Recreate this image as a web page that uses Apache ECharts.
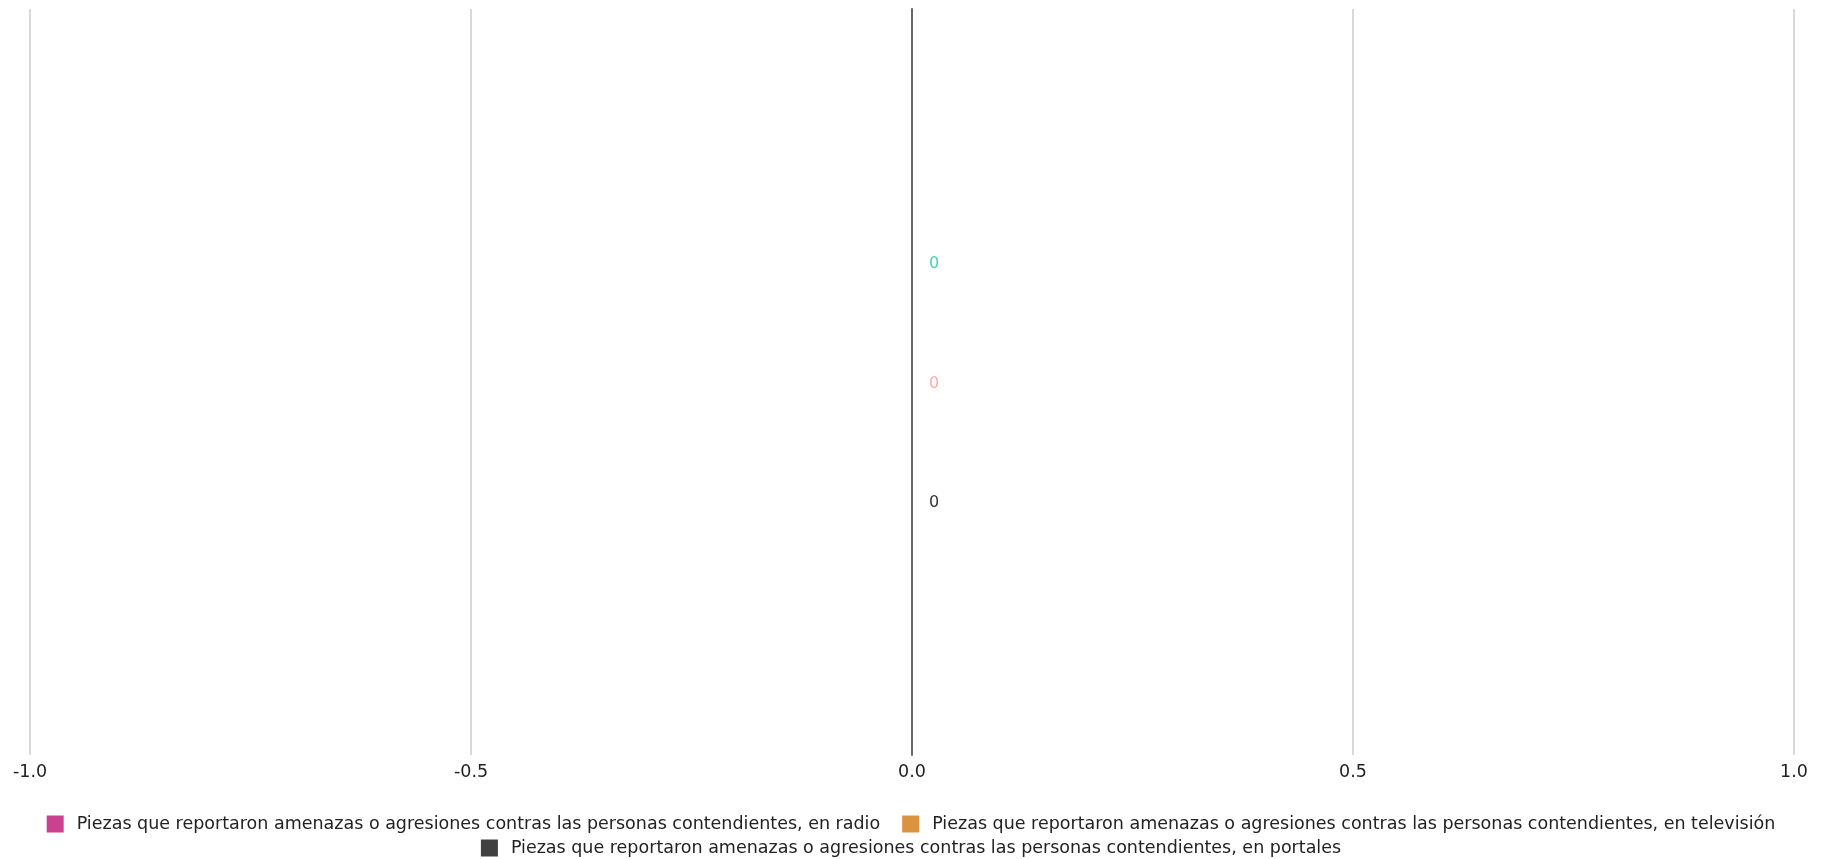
<!DOCTYPE html>
<html>
<head>
<meta charset="utf-8">
<script src="https://cdn.jsdelivr.net/npm/echarts@6/dist/echarts.min.js"></script>
<style>
html,body{margin:0;padding:0;background:#fff;}
#chart{width:1822px;height:859px;}
</style>
</head>
<body>
<div id="chart"></div>
<script>
const categories = [''];
const seriesNames = [
  'Piezas que reportaron amenazas o agresiones contras las personas contendientes, en radio',
  'Piezas que reportaron amenazas o agresiones contras las personas contendientes, en televisión',
  'Piezas que reportaron amenazas o agresiones contras las personas contendientes, en portales'
];
const radioValues = [0];
const tvValues = [0];
const portalesValues = [0];
const seriesColors = ['#c9418f', '#dc9340', '#404040'];
const labelColors = ['#45d3aa', '#ffaaaa', '#333333'];
const xTicks = [-1.0, -0.5, 0.0, 0.5, 1.0];

const font = '"DejaVu Sans", Verdana, sans-serif';
const values = [radioValues, tvValues, portalesValues];

const legendBase = {
  left: 'center',
  itemWidth: 17, itemHeight: 17, itemGap: 22,
  icon: 'rect',
  itemStyle: { borderRadius: 2 },
  textStyle: { fontFamily: font, fontSize: 17.5, color: '#222', padding: [0, 0, 0, 8] }
};

const chart = echarts.init(document.getElementById('chart'));
chart.setOption({
  animation: false,
  textStyle: { fontFamily: font },
  grid: { left: 30, right: 28, top: 9, bottom: 104, containLabel: false },
  legend: [
    Object.assign({ data: [seriesNames[0], seriesNames[1]], top: 810 }, legendBase),
    Object.assign({ data: [seriesNames[2]], top: 834 }, legendBase)
  ],
  xAxis: {
    type: 'value',
    min: xTicks[0], max: xTicks[xTicks.length - 1], interval: 0.5,
    axisLine: { show: false },
    axisTick: { show: false },
    splitLine: { show: true, lineStyle: { color: '#d9d9d9', width: 2 } },
    axisLabel: {
      fontFamily: font, fontSize: 17.5, color: '#222', margin: 8,
      formatter: v => v.toFixed(1)
    }
  },
  yAxis: {
    type: 'category',
    data: categories,
    inverse: true,
    axisLine: { show: true, onZero: true, lineStyle: { color: '#666', width: 2 } },
    axisTick: { show: false },
    axisLabel: { show: false }
  },
  series: values.map((vals, i) => ({
    name: seriesNames[i],
    type: 'bar',
    data: vals,
    barWidth: 40,
    barGap: '199%',
    itemStyle: { color: seriesColors[i] },
    label: {
      show: true, position: 'right', distance: 17, offset: [0, 1.5],
      fontFamily: font, fontSize: 16, color: labelColors[i]
    }
  }))
});
</script>
</body>
</html>
